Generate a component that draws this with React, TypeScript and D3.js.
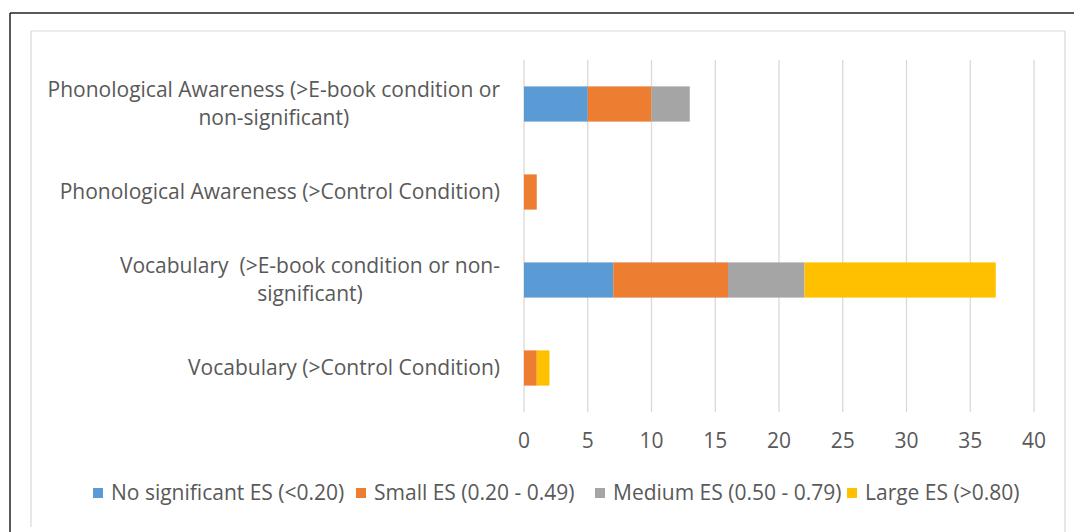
import React from "react";
import * as d3 from "d3";

const categories = [
  "Phonological Awareness (>E-book condition or non-significant)",
  "Phonological Awareness (>Control Condition)",
  "Vocabulary  (>E-book condition or non-significant)",
  "Vocabulary (>Control Condition)",
];
const categoryLines = [
  ["Phonological Awareness (>E-book condition or", "non-significant)"],
  ["Phonological Awareness (>Control Condition)"],
  ["Vocabulary  (>E-book condition or non-", "significant)"],
  ["Vocabulary (>Control Condition)"],
];
const seriesNames = [
  "No significant ES (<0.20)",
  "Small ES (0.20 - 0.49)",
  "Medium ES (0.50 - 0.79)",
  "Large ES (>0.80)",
];
const noSignificant = [5, 0, 7, 0];
const small = [5, 1, 9, 1];
const medium = [3, 0, 6, 0];
const large = [0, 0, 15, 1];
const xTicks = [0, 5, 10, 15, 20, 25, 30, 35, 40];
const colors = ["#5B9BD5", "#ED7D31", "#A5A5A5", "#FFC000"];

const FONT = "'Open Sans', 'Noto Sans', sans-serif";
const TEXT = "#595959";

let ctx: CanvasRenderingContext2D | null = null;
function measure(s: string, fs: number) {
  if (!ctx) ctx = document.createElement("canvas").getContext("2d");
  if (!ctx) return s.length * fs * 0.5;
  ctx.font = `${fs}px 'Open Sans', 'Noto Sans', sans-serif`;
  return ctx.measureText(s).width;
}

export default function App() {
  const W = 1074, H = 532;
  const x = d3.scaleLinear().domain([0, 40]).range([524, 1034]);
  const y = d3.scaleBand<string>().domain(categories).range([60, 412]).paddingInner(0.6).paddingOuter(0.3);

  const rows = categories.map((c, i) => ({
    cat: c,
    s0: noSignificant[i], s1: small[i], s2: medium[i], s3: large[i],
  }));
  const stack = d3.stack<any>().keys(["s0", "s1", "s2", "s3"])(rows);

  const legendX = [93, 356, 595, 847];
  const fs = 21;
  const labelRight = 500;

  return (
    <div style={{ position: "fixed", left: 0, top: 0 }}>
      <svg width={W} height={H} style={{ display: "block", background: "#fff" }} fontFamily={FONT}>
        <rect x={0} y={0} width={W} height={H} fill="#fff" />
        {/* outer frame */}
        <line x1={10} y1={13} x2={W + 5} y2={13} stroke="#222" strokeWidth={1.5} />
        <line x1={10} y1={13} x2={10} y2={H + 5} stroke="#222" strokeWidth={1.5} />
        {/* chart area border */}
        <line x1={31} y1={31} x2={1065} y2={31} stroke="#D9D9D9" strokeWidth={1.2} />
        <line x1={31} y1={31} x2={31} y2={527} stroke="#D9D9D9" strokeWidth={1.2} />
        <line x1={1065} y1={31} x2={1065} y2={H + 5} stroke="#D9D9D9" strokeWidth={1.2} />
        {/* gridlines */}
        {xTicks.map((t) => (
          <line key={t} x1={x(t)} x2={x(t)} y1={60} y2={412} stroke="#D9D9D9" strokeWidth={1.3} />
        ))}
        {/* bars */}
        {stack.map((s, si) => (
          <g key={si} fill={colors[si]}>
            {s.map((d, i) =>
              d[1] - d[0] > 0 ? (
                <rect key={i} x={x(d[0])} y={y(categories[i])!} width={x(d[1]) - x(d[0])} height={y.bandwidth()} />
              ) : null
            )}
          </g>
        ))}
        {/* category labels */}
        {categoryLines.map((lines, i) => {
          const cy = y(categories[i])! + y.bandwidth() / 2;
          const lh = 28;
          const start = cy - ((lines.length - 1) * lh) / 2;
          const maxW = Math.max(...lines.map((l) => measure(l, fs)));
          const cx = labelRight - maxW / 2;
          return (
            <text key={i} textAnchor="middle" fill={TEXT} fontSize={fs} style={{ whiteSpace: "pre" }}>
              {lines.map((l, j) => (
                <tspan key={j} x={cx} y={start + j * lh} dy="0.35em">{l}</tspan>
              ))}
            </text>
          );
        })}
        {/* x tick labels */}
        {xTicks.map((t) => (
          <text key={t} x={x(t)} y={441} dy="0.35em" textAnchor="middle" fill={TEXT} fontSize={fs}>{t}</text>
        ))}
        {/* legend */}
        {seriesNames.map((n, i) => (
          <g key={n}>
            <rect x={legendX[i]} y={488} width={10} height={10} fill={colors[i]} />
            <text x={legendX[i] + 18} y={493} dy="0.35em" fill={TEXT} fontSize={fs}>{n}</text>
          </g>
        ))}
      </svg>
    </div>
  );
}
